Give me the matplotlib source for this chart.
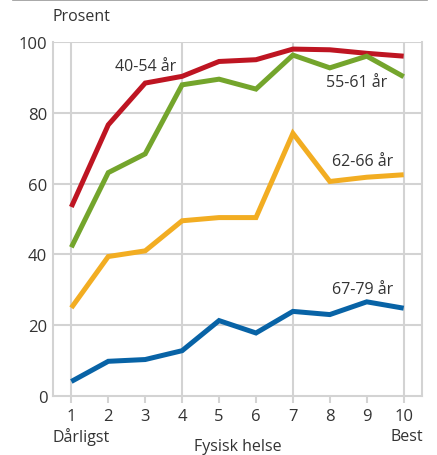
import matplotlib
matplotlib.use("Agg")
import matplotlib.pyplot as plt
from matplotlib.lines import Line2D

plt.rcParams["font.family"] = ["Open Sans", "DejaVu Sans"]

# fysisk helse, 1 = dårligst, 10 = best
helse = [1, 2, 3, 4, 5, 6, 7, 8, 9, 10]

# andel i prosent per aldersgruppe
age_40_54 = [53.4, 76.6, 88.4, 90.3, 94.5, 95.0, 98.0, 97.8, 96.8, 96.0]
age_55_61 = [42.0, 63.1, 68.4, 87.9, 89.5, 86.7, 96.3, 92.7, 96.0, 90.2]
age_62_66 = [24.9, 39.4, 41.0, 49.5, 50.4, 50.4, 74.2, 60.6, 61.8, 62.5]
age_67_79 = [4.1, 9.8, 10.3, 12.8, 21.3, 17.8, 23.9, 23.0, 26.6, 24.8]

series_labels = ["40-54 år", "55-61 år", "62-66 år", "67-79 år"]
y_ticks = [0, 20, 40, 60, 80, 100]

colors = ["#be1522", "#74a52c", "#f2ad22", "#0863a6"]
label_pos = [(3.0, 93.2), (8.73, 88.7), (8.88, 66.4), (8.89, 30.2)]

grid_col = "#d3d3d3"
text_col = "#333333"

fig = plt.figure(figsize=(4.37, 4.56), dpi=100)
ax = fig.add_axes([0.121, 0.1294, 0.845, 0.7763])

for vals, col in zip([age_40_54, age_55_61, age_62_66, age_67_79], colors):
    ax.plot(helse, vals, color=col, linewidth=3.6, solid_capstyle="butt",
            solid_joinstyle="miter", zorder=3)

for lab, (lx, ly) in zip(series_labels, label_pos):
    ax.text(lx, ly, lab, ha="center", va="center", fontsize=11.5,
            color=text_col, zorder=4)

ax.set_xlim(0.5, 10.5)
ax.set_ylim(0, 100)
ax.set_xticks(helse)
ax.set_yticks(y_ticks)

# gridlines: horizontal at every tick, vertical only at 1, 4, 7, 10
for yv in y_ticks[1:]:
    ax.axhline(yv, color=grid_col, linewidth=1.5, zorder=1)
for xv in [1, 4, 7, 10]:
    ax.axvline(xv, color=grid_col, linewidth=1.5, zorder=1)

for side in ["left", "right", "bottom"]:
    ax.spines[side].set_color(grid_col)
    ax.spines[side].set_linewidth(1.5)
ax.spines["top"].set_visible(False)

ax.tick_params(axis="y", length=0, pad=4, labelsize=12, labelcolor=text_col)
ax.tick_params(axis="x", length=5, width=1.5, color=grid_col, pad=4,
               labelsize=12, labelcolor=text_col)

fig.text(0.121, 0.9627, "Prosent", ha="left", va="center", fontsize=11.5,
         color=text_col, transform=fig.transFigure)
fig.text(53 / 437, 1 - 437 / 456, "Dårligst", ha="left", va="center",
         fontsize=11.5, color=text_col)
fig.text(423 / 437, 1 - 437 / 456, "Best", ha="right", va="center",
         fontsize=11.5, color=text_col)
fig.text(238 / 437, 1 - 447 / 456, "Fysisk helse", ha="center", va="center",
         fontsize=11.5, color=text_col)

# thin rule along the top of the figure
fig.add_artist(Line2D([13 / 437, 427 / 437], [0.998, 0.998], color="#999999",
                      linewidth=1.2, transform=fig.transFigure))

fig.savefig("out.png", dpi=100)
